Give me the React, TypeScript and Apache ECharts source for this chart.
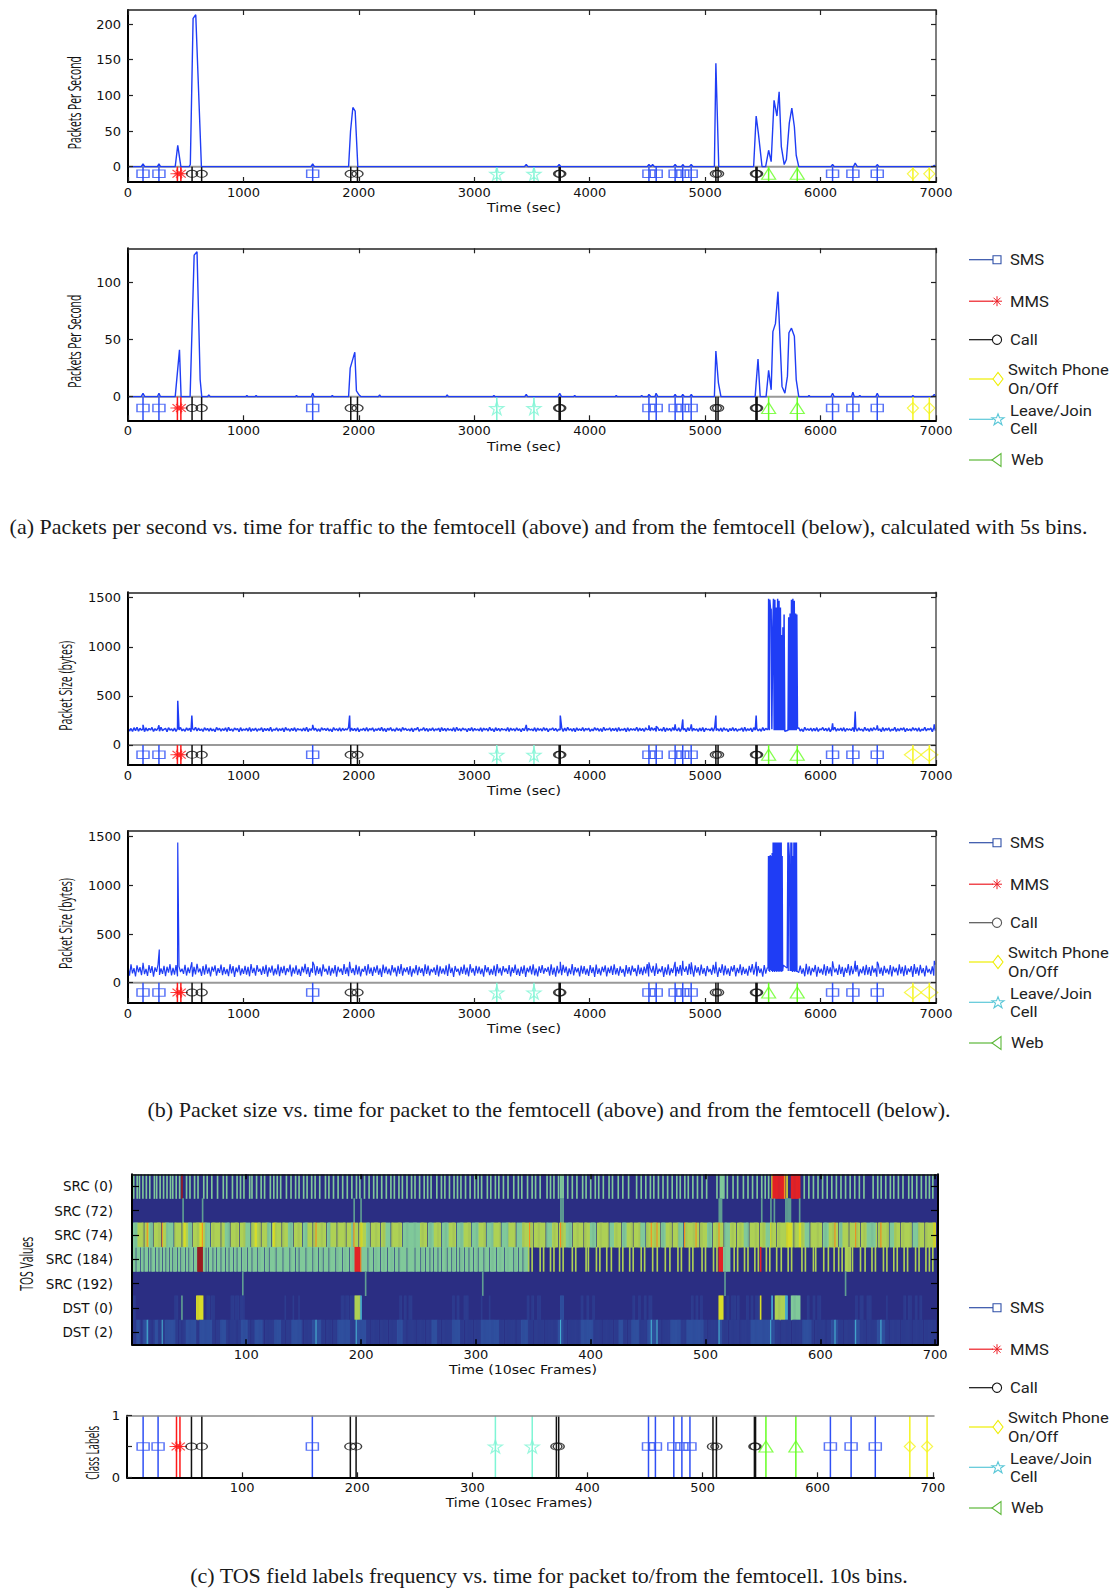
import React, { useEffect, useRef } from "react";
import * as echarts from "echarts";

// ---- event annotations (seconds) ----
const smsTimes = [130, 268, 1600, 4513, 4576, 4740, 4806, 4879, 6104, 6280, 6491];
const mmsTimes = [428, 458];
const callTimes = [555, 638, 1930, 1988, 3735, 3745, 5093, 5112, 5440, 5450];
const switchTimes = [6800, 6942];
const leaveTimes = [3195, 3517];
const webTimes = [5550, 5798];

// ---- event annotations (10 s frames) ----
const smsFrames = [14, 27, 161, 453, 459, 475, 482, 489, 611, 629, 650];
const mmsFrames = [43, 46];
const callFrames = [56, 65, 194, 199, 373, 375, 509, 512, 545, 546];
const switchFrames = [680, 695];
const leaveFrames = [320, 352];
const webFrames = [555, 581];

const secTicks = [0, 1000, 2000, 3000, 4000, 5000, 6000, 7000];
const frameTicks = [100, 200, 300, 400, 500, 600, 700];
const rateTicksTo = [0, 50, 100, 150, 200];
const rateTicksFrom = [0, 50, 100];
const sizeTicks = [0, 500, 1000, 1500];
const classTicks = [0, 0.5, 1];
const classLabels = [0, 1];
const tosLabels = ["SRC (0)", "SRC (72)", "SRC (74)", "SRC (184)", "SRC (192)", "DST (0)", "DST (2)"];

const captionA = "(a) Packets per second vs. time for traffic to the femtocell (above) and from the femtocell (below), calculated with 5s bins.";
const captionB = "(b) Packet size vs. time for packet to the femtocell (above) and from the femtocell (below).";
const captionC = "(c) TOS field labels frequency vs. time for packet to/from the femtocell. 10s bins.";

// ---- packets per second ----
const rateTo = [
  [0, 0], [115, 0], [130, 4], [145, 0], [255, 0], [268, 4], [281, 0], [409, 0], [431, 30], [458, 0], [530, 0], [540, 3], [564, 208], [587, 213], [636, 0],
  [1585, 0], [1600, 4], [1615, 0], [1911, 0], [1928, 50], [1948, 83], [1968, 78], [1991, 0], [3435, 0], [3450, 3], [3465, 0], [3720, 0], [3735, 3], [3750, 0],
  [4498, 0], [4513, 3], [4530, 0], [4545, 3], [4560, 0], [4725, 0], [4740, 3], [4755, 0], [4795, 0], [4806, 3], [4820, 0], [4865, 0], [4879, 3], [4895, 0],
  [5080, 0], [5093, 145], [5118, 0], [5420, 0], [5442, 71], [5461, 47], [5493, 0], [5524, 0], [5550, 23], [5572, 7], [5597, 93], [5622, 71], [5641, 105],
  [5660, 28], [5685, 3], [5704, 10], [5729, 61], [5751, 82], [5773, 56], [5789, 16], [5811, 0],
  [6090, 0], [6104, 3], [6118, 0], [6285, 0], [6300, 5], [6318, 0], [6478, 0], [6491, 3], [6505, 0], [6970, 0], [6985, 2], [7000, 0],
];
const rateFrom = [
  [0, 0], [115, 0], [130, 3], [145, 0], [255, 0], [268, 3], [281, 0], [409, 0], [446, 41], [460, 0], [538, 0], [573, 124], [598, 127], [625, 15], [639, 0],
  [690, 0], [700, 1.5], [712, 0], [1020, 0], [1030, 1], [1040, 0], [1100, 0], [1110, 1], [1120, 0], [1450, 0], [1460, 1], [1470, 0], [1588, 0], [1600, 3], [1612, 0],
  [1760, 0], [1770, 1], [1780, 0], [1911, 0], [1925, 25], [1965, 39], [1979, 5], [1999, 2], [2019, 0], [2170, 0], [2180, 1.5], [2190, 0], [2755, 0], [2765, 1.5], [2775, 0],
  [3160, 0], [3170, 1], [3180, 0], [3438, 0], [3450, 2], [3462, 0], [3725, 0], [3740, 3], [3755, 0], [3860, 0], [3870, 1], [3880, 0], [4220, 0], [4230, 1], [4240, 0],
  [4440, 0], [4450, 1], [4462, 0], [4503, 0], [4513, 2], [4530, 0], [4565, 0], [4575, 3], [4590, 0], [4728, 0], [4740, 2], [4752, 0], [4795, 0], [4806, 2], [4820, 0], [4868, 0], [4880, 2], [4892, 0],
  [5080, 0], [5093, 40], [5115, 12], [5137, 0], [5433, 0], [5458, 33], [5477, 0], [5528, 0], [5550, 23], [5572, 6], [5587, 57], [5609, 64], [5631, 92], [5666, 9], [5691, 3],
  [5713, 18], [5726, 56], [5748, 60], [5773, 53], [5789, 15], [5811, 0], [5890, 0], [5900, 1], [5910, 0], [6090, 0], [6104, 3], [6118, 0], [6268, 0], [6280, 4], [6292, 0],
  [6330, 0], [6340, 1], [6350, 0], [6478, 0], [6491, 3], [6505, 0], [6790, 0], [6800, 1], [6812, 0], [6970, 0], [6985, 2], [7000, 0],
];

// ---- packet size: ripple read every 13 s, plus spikes and the two bursts ----
const sizeToRipple = [
  172, 142, 168, 138, 176, 146, 180, 140, 170, 150, 164, 136, 174, 144, 168, 152, 178, 138, 166, 148, 172, 140, 180, 146, 160,
  170, 136, 176, 150, 164, 142, 172, 138, 168, 154, 178, 144, 162, 140, 174, 148, 170, 136, 166, 152, 180, 142, 172, 146, 164,
  138, 176, 150, 168, 140, 172, 144, 162, 136, 178, 152, 170, 142, 166, 148, 174, 138, 180, 146, 164, 140, 172, 154, 168, 136,
  176, 144, 162, 150, 170, 142, 178, 138, 166, 148, 172, 140, 164, 152, 176, 136, 170, 146, 168, 144, 180, 138, 162, 150, 174,
  142, 166, 148, 172, 136, 178, 152, 164, 140, 170, 146, 176, 138, 168, 154, 162, 142, 172, 144, 180, 136, 166, 150, 174, 148,
  170, 140, 164, 138, 176, 152, 168, 146, 172, 142, 162, 136, 178, 150, 166, 144, 174, 140, 170, 148, 164, 154, 180, 138, 172,
  146, 168, 142, 176, 136, 162, 150, 170, 144, 178, 140, 166, 152, 174, 138, 164, 148, 172, 146, 180, 142, 168, 136, 170, 150,
  176, 144, 162, 140, 174, 148, 166, 138, 178, 152, 170, 146, 164, 142, 172, 136, 168, 154, 180, 140, 162, 150, 176, 144, 170,
  138, 166, 148, 174, 142, 164, 152, 172, 136, 178, 146, 168, 140, 170, 150, 162, 144, 176, 138, 180, 148, 166, 142, 172, 154,
  164, 136, 170, 146, 178, 140, 168, 150, 162, 144, 174, 138, 172, 152, 166, 142, 180, 148, 164, 136, 176, 146, 170, 140, 168,
  154, 162, 144, 178, 138, 172, 150, 166, 142, 174, 148, 164, 136, 170, 146, 180, 140, 168, 152, 162, 144, 176, 138, 172, 150,
  166, 142, 178, 148, 170, 136, 164, 154, 174, 146, 168, 140, 162, 152, 176, 138, 172, 144, 180, 150, 166, 142, 170, 136, 174,
  148, 164, 146, 178, 140, 168, 152, 172, 138, 162, 144, 176, 150, 170, 142, 166, 136, 180, 148, 164, 154, 174, 140, 168, 146,
  172, 138, 178, 144, 162, 150, 170, 136, 176, 142, 166, 152, 164, 148, 180, 140, 172, 146, 168, 138, 174, 154, 162, 144, 178, 150,
  170, 138, 176, 146, 164, 142, 180, 136, 172, 150, 168, 140, 178, 148, 162, 144, 174, 138, 170, 152, 166, 136, 176, 146, 180,
  142, 168, 150, 164, 138, 172, 144, 178, 136, 170, 154, 162, 146, 174, 140, 180, 148, 166, 142, 172, 138, 176, 150, 164, 136,
  168, 146, 178, 144, 170, 140, 162, 152, 174, 138, 180, 142, 166, 148, 172, 136, 176, 150, 168, 144, 164, 140, 178, 146, 170,
  154, 162, 138, 174, 142, 180, 148, 166, 136, 172, 150, 176, 144, 168, 140, 164, 152, 178, 138, 170, 146, 174, 142, 162, 136,
  180, 150, 166, 148, 172, 140, 168, 144, 176, 138, 164, 154, 178, 146, 170, 142, 174, 136, 162, 150, 180, 140, 166, 148, 172,
  144, 176, 138, 168, 152, 164, 146, 178, 136, 170, 142, 174, 150, 162, 140, 180, 148, 166, 138, 172, 144, 176, 154, 168, 146,
  164, 136, 178, 142, 170, 150, 174, 140, 162, 148, 180, 138, 166, 144, 172, 152, 176, 136, 168, 146, 164, 142, 178, 150, 170,
  140, 174, 138, 162, 148, 180, 144, 166, 154, 172, 136, 176, 146, 168, 142, 164, 150, 178, 140, 170, 138, 174, 148, 162, 144, 180,
];
const sizeFromRipple = [
  165, 72, 188, 96, 150, 64, 178, 108, 160, 78, 192, 88, 142, 70, 182, 100, 170, 62, 158, 112, 186, 80, 148, 92, 174,
  68, 164, 104, 190, 76, 152, 84, 180, 66, 168, 110, 144, 90, 184, 74, 156, 98, 176, 62, 162, 86, 194, 106, 146, 70,
  172, 82, 188, 94, 154, 64, 166, 114, 178, 72, 150, 102, 186, 78, 160, 88, 142, 68, 190, 96, 170, 60, 156, 108, 182,
  76, 148, 92, 174, 84, 164, 66, 192, 100, 152, 72, 180, 112, 144, 80, 168, 90, 184, 62, 158, 104, 176, 74, 146, 86,
  190, 68, 162, 98, 172, 78, 150, 110, 186, 64, 154, 94, 178, 82, 142, 70, 166, 106, 194, 88, 160, 60, 148, 102, 182,
  76, 170, 92, 156, 66, 188, 114, 144, 84, 174, 72, 152, 96, 180, 62, 164, 108, 146, 80, 192, 90, 158, 68, 176, 100,
  150, 78, 184, 86, 168, 64, 142, 112, 172, 74, 190, 94, 154, 70, 162, 104, 178, 82, 148, 60, 186, 98, 166, 88, 144,
  76, 180, 106, 156, 66, 174, 92, 192, 72, 152, 110, 160, 84, 170, 62, 146, 96, 182, 78, 164, 102, 150, 68, 188, 90,
  176, 74, 142, 108, 158, 80, 184, 64, 168, 94, 148, 86, 178, 70, 194, 100, 154, 60, 172, 112, 144, 76, 162, 92, 186,
  82, 156, 66, 190, 104, 150, 72, 174, 96, 166, 88, 146, 62, 180, 108, 160, 78, 142, 84, 176, 68, 192, 98, 152, 74,
  170, 110, 148, 90, 182, 64, 158, 102, 186, 80, 144, 70, 164, 94, 178, 60, 154, 106, 172, 86, 190, 76, 146, 66, 168,
  100, 180, 92, 150, 112, 162, 72, 188, 82, 156, 62, 174, 96, 142, 78, 184, 104, 166, 68, 148, 88, 192, 74, 160, 108,
  152, 64, 176, 94, 170, 84, 144, 70, 182, 100, 158, 60, 186, 90, 146, 76, 164, 110, 178, 66, 154, 98, 172, 80, 190,
  86, 150, 72, 168, 102, 142, 62, 180, 94, 160, 74, 176, 112, 148, 68, 184, 88, 156, 78, 166, 96, 192, 64, 152, 104, 174,
  70, 186, 90, 144, 108, 170, 60, 158, 84, 190, 76, 148, 100, 176, 66, 162, 94, 182, 72, 154, 112, 168, 80, 194, 88,
  146, 62, 178, 104, 160, 74, 186, 92, 150, 68, 172, 110, 142, 82, 184, 96, 164, 60, 156, 102, 190, 76, 176, 86, 148,
  70, 168, 114, 180, 64, 152, 98, 188, 78, 162, 90, 144, 72, 174, 106, 192, 84, 158, 66, 170, 100, 146, 62, 182, 94,
  154, 80, 186, 108, 164, 68, 178, 88, 150, 74, 190, 96, 142, 60, 172, 112, 160, 82, 184, 70, 156, 104, 176, 92, 148,
  66, 194, 86, 168, 76, 152, 110, 182, 62, 162, 98, 144, 84, 188, 72, 170, 94, 158, 68, 178, 106, 146, 80, 186, 90,
  164, 60, 154, 102, 192, 74, 172, 88, 150, 112, 180, 66, 142, 96, 168, 78, 184, 84, 160, 70, 176, 104, 148, 62, 190,
  92, 156, 72, 174, 100, 144, 86, 182, 64, 166, 108, 152, 76, 188, 94, 162, 68, 178, 82, 146, 110, 170, 60, 192, 90,
  158, 74, 184, 98, 150, 66, 176, 104, 142, 88, 168, 72, 186, 112, 160, 80, 148, 62, 180, 96, 172, 84, 154, 70, 190, 106,
];
const sizeToSpikes = [
  [130, 205], [268, 200], [431, 450], [553, 300], [1600, 205], [1920, 300], [3450, 205], [3745, 300], [4513, 200], [4576, 190], [4740, 210], [4806, 260],
  [4880, 210], [5093, 300], [5442, 300], [6104, 220], [6300, 340], [6491, 200], [6985, 210],
];
const sizeFromSpikes = [
  [130, 205], [271, 340], [431, 1440], [553, 210], [1600, 215], [1920, 215], [3745, 215], [4513, 210], [4576, 200], [4740, 215], [4806, 225],
  [4880, 210], [5093, 215], [5442, 215], [6104, 220], [6300, 225], [6491, 215], [6985, 225],
];
const sizeToBurst = [
  [5546, 170], [5550, 1490], [5556, 150], [5560, 1480], [5566, 1390], [5572, 1380], [5578, 160], [5586, 1200], [5592, 1490], [5598, 150], [5604, 1480], [5610, 150],
  [5616, 1400], [5622, 150], [5628, 1490], [5634, 150], [5640, 1470], [5646, 150], [5652, 1400], [5658, 150], [5664, 1120], [5668, 150], [5674, 1200], [5680, 150], [5684, 1330], [5690, 140],
  [5718, 150], [5724, 1300], [5730, 150], [5736, 1340], [5742, 150], [5748, 1480], [5754, 150], [5760, 1490], [5766, 150], [5772, 1470], [5778, 150], [5784, 1340], [5790, 150], [5794, 1330], [5800, 170],
];
const sizeFromBurst = [
  [5544, 150], [5548, 1300], [5552, 120], [5556, 1300], [5560, 110], [5564, 1310], [5568, 130], [5572, 1300], [5576, 120], [5580, 1330], [5584, 110], [5588, 1440], [5592, 120], [5596, 1440], [5600, 110],
  [5604, 1440], [5608, 120], [5612, 1440], [5616, 110], [5620, 1440], [5624, 120], [5628, 1440], [5632, 110], [5636, 1440], [5640, 120], [5644, 1440], [5648, 110], [5652, 1440], [5656, 120], [5660, 1440], [5664, 110],
  [5668, 1300], [5672, 120], [5678, 180], [5710, 150], [5716, 1440], [5720, 120], [5724, 1440], [5730, 1300], [5736, 120], [5742, 1440], [5746, 120], [5752, 1440], [5756, 110], [5760, 1300], [5764, 120],
  [5768, 1440], [5772, 110], [5776, 1440], [5780, 120], [5784, 1440], [5788, 110], [5792, 1440], [5796, 120],
];

// ---- TOS heat map: columns are frames, levels index the colour ramp ----
const src0Stripes = [2, 5, 7, 10, 13, 16, 20, 22, 25, 28, 31, 34, 36, 39, 42, 48, 51, 55, 58, 63, 66, 70, 75, 80, 83, 88, 92, 95, 98, 103, 105, 109, 113, 116, 121, 124, 127, 130, 135, 139, 143, 146, 150, 153, 157, 160, 164, 169, 172, 176, 180, 184, 188, 192, 196, 199, 203, 207, 211, 214, 218, 222, 226, 229, 233, 236, 240, 244, 247, 251, 255, 258, 261, 266, 270, 273, 277, 281, 284, 287, 291, 295, 299, 302, 305, 310, 313, 317, 320, 324, 328, 333, 337, 340, 345, 349, 352, 356, 362, 365, 368, 372, 374, 375, 376, 380, 384, 388, 393, 396, 400, 404, 407, 411, 416, 419, 424, 428, 433, 440, 444, 448, 452, 455, 459, 463, 467, 471, 475, 478, 482, 485, 489, 493, 497, 501, 510, 513, 514, 515, 516, 519, 524, 528, 533, 537, 541, 545, 549, 552, 555, 586, 590, 594, 598, 602, 606, 610, 614, 618, 622, 626, 630, 634, 638, 646, 650, 653, 657, 661, 664, 668, 672, 677, 680, 684, 688, 692, 695, 698];
const src0Accents = [[44, 44, 10], [558, 558, 7], [559, 568, 9], [569, 569, 8], [571, 571, 7], [575, 582, 9]];
const src72Lines = [[45, 45, 4], [62, 62, 4], [194, 194, 4], [200, 200, 4], [374, 376, 4], [512, 514, 4], [549, 549, 4], [557, 557, 4], [560, 560, 4], [570, 574, 4], [582, 582, 4]];
const src74Mint = [[1, 5, 5], [16, 18, 5], [31, 36, 5], [50, 52, 5], [65, 68, 5], [82, 85, 5], [100, 103, 5], [119, 121, 5], [137, 140, 5], [150, 153, 5], [171, 173, 5], [192, 193, 5], [205, 207, 5], [222, 225, 5], [237, 251, 5], [259, 263, 5], [271, 276, 5], [284, 289, 5], [297, 302, 5], [310, 315, 5], [323, 328, 5], [336, 340, 5], [362, 366, 5], [379, 383, 5], [400, 404, 5], [417, 420, 5], [428, 431, 5], [444, 447, 5], [462, 465, 5], [477, 480, 5], [502, 505, 5], [517, 521, 5], [534, 537, 5], [553, 556, 5], [587, 590, 5], [603, 607, 5], [617, 619, 5], [641, 648, 5], [661, 664, 5], [681, 685, 5]];
const src74Gaps = [11, 19, 26, 37, 44, 53, 61, 69, 78, 86, 94, 104, 113, 122, 131, 141, 149, 158, 170, 179, 187, 198, 208, 217, 226, 236, 258, 270, 283, 296, 309, 322, 335, 350, 361, 372, 384, 394, 405, 416, 427, 437, 448, 461, 471, 481, 495, 506, 516, 527, 538, 547, 562, 577, 591, 602, 616, 625, 635, 650, 660, 670, 680, 691];
const src74Accents = [[46, 47, 7], [60, 61, 7], [108, 109, 7], [124, 125, 7], [200, 201, 7], [557, 557, 7], [571, 575, 7], [582, 583, 7], [699, 700, 7], [14, 14, 8], [27, 27, 8], [62, 62, 8], [161, 161, 8], [194, 194, 8], [347, 347, 8], [374, 374, 8], [453, 453, 8], [458, 458, 8], [482, 482, 8], [492, 492, 8], [512, 512, 8], [613, 613, 8], [631, 631, 8], [653, 653, 8]];
const src184Gaps = [4, 8, 11, 15, 17, 21, 24, 27, 30, 33, 36, 40, 43, 47, 50, 54, 65, 67, 71, 74, 78, 82, 85, 89, 92, 96, 101, 105, 110, 116, 120, 126, 132, 138, 143, 146, 152, 158, 163, 167, 172, 178, 184, 190, 206, 211, 217, 223, 229, 233, 240, 247, 252, 256, 260, 263, 267, 270, 275, 279, 283, 286, 290, 294, 298, 302, 307, 312, 318, 325, 333, 337, 341];
const src184Stripes = [346, 349, 356, 359, 365, 368, 373, 376, 384, 387, 396, 398, 405, 408, 414, 418, 425, 428, 434, 437, 444, 447, 454, 458, 465, 469, 476, 479, 486, 489, 497, 500, 507, 510, 518, 525, 528, 534, 537, 543, 546, 553, 556, 562, 566, 572, 575, 584, 587, 594, 596, 603, 607, 612, 616, 619, 628, 635, 639, 645, 648, 655, 658, 664, 667, 673, 676, 683, 686, 692, 695, 698];
const src184Accents = [[516, 521, 5], [622, 626, 6], [58, 62, 10], [195, 199, 9], [200, 200, 8], [512, 515, 9], [548, 548, 9]];
const src192Lines = [[97, 97, 4], [204, 204, 4], [306, 306, 4], [517, 517, 4], [622, 622, 4]];
const dst0Faint = [[2, 3, 1], [38, 40, 1], [66, 68, 1], [70, 72, 1], [87, 89, 1], [91, 93, 1], [95, 98, 1], [134, 134, 1], [141, 141, 1], [146, 146, 1], [183, 185, 1], [187, 189, 1], [191, 194, 1], [234, 235, 1], [238, 239, 1], [242, 244, 1], [280, 281, 1], [284, 285, 1], [290, 293, 1], [305, 305, 1], [312, 312, 1], [345, 346, 1], [349, 350, 1], [354, 356, 1], [374, 376, 2], [392, 393, 1], [397, 398, 1], [402, 403, 1], [437, 438, 1], [442, 443, 1], [447, 448, 1], [451, 453, 1], [488, 489, 1], [492, 493, 1], [496, 497, 1], [519, 520, 1], [523, 526, 1], [528, 529, 1], [536, 537, 1], [540, 541, 1], [544, 546, 1], [589, 590, 1], [594, 595, 1], [598, 600, 1], [631, 632, 1], [635, 637, 1], [641, 644, 1], [658, 658, 1], [673, 674, 1], [677, 679, 1], [683, 684, 1], [687, 688, 1]];
const dst0Accents = [[44, 44, 4], [57, 62, 7], [195, 199, 6], [200, 200, 3], [512, 515, 7], [548, 548, 7], [558, 558, 3], [561, 569, 6], [570, 571, 3], [575, 582, 5]];
const dst2Bright = [[5, 7, 2], [11, 15, 2], [21, 23, 2], [30, 38, 2], [48, 56, 2], [60, 70, 2], [78, 82, 2], [96, 101, 2], [108, 114, 2], [125, 130, 2], [140, 148, 2], [158, 165, 2], [180, 190, 2], [196, 204, 2], [232, 236, 2], [262, 266, 2], [280, 286, 2], [305, 320, 2], [340, 345, 2], [372, 376, 2], [392, 402, 2], [425, 428, 2], [436, 442, 2], [450, 458, 2], [470, 478, 2], [484, 498, 2], [512, 514, 2], [540, 560, 2], [585, 592, 2], [610, 615, 2], [630, 634, 2], [650, 656, 2]];
const dst2Gaps = [9, 18, 26, 41, 44, 58, 73, 85, 92, 104, 116, 134, 150, 169, 175, 208, 216, 224, 240, 248, 256, 270, 290, 298, 325, 335, 350, 360, 380, 410, 420, 432, 462, 502, 520, 530, 565, 575, 595, 605, 620, 640, 660, 670, 680, 690];
const dst2Cyan = [14, 27, 161, 196, 374, 453, 458, 512, 557, 613, 631, 653];

const tosRamp = ["#2b2e83", "#2d3c8f", "#2f4f9e", "#46aed0", "#5f9e92", "#80c99a", "#aed155", "#d8dc28", "#f5901e", "#e32226", "#9c1c20"];

const frameCount = 702;
const blue = "#1f3df5";
const tickFont = "DejaVu Sans";
const labelFont = "Open Sans";
const legendFont = "Roboto";
const starPath = "path://M50 0L61 35L98 35L68 57L79 91L50 70L21 91L32 57L2 35L39 35Z";
const asteriskPath = "path://M50 0V100M0 50H100M15 15L85 85M85 15L15 85";
const ellipsePath = "path://M0 50A50 50 0 1 1 100 50A50 50 0 1 1 0 50Z";

function buildHeatCells() {
  const rows = tosLabels.map(() => new Array(frameCount).fill(0));
  const runs = (r: number, list: number[][]) => list.forEach(([a, b, l]) => { for (let f = a; f <= b; f++) rows[r][f - 1] = l; });
  const marks = (r: number, list: number[], l: number) => list.forEach((f) => { rows[r][f - 1] = l; });
  marks(0, src0Stripes, 5); runs(0, src0Accents);
  runs(1, src72Lines);
  runs(2, [[1, 700, 6]]); runs(2, src74Mint); marks(2, src74Gaps, 0); runs(2, src74Accents);
  runs(3, [[1, 345, 5]]); marks(3, src184Gaps, 0); marks(3, src184Stripes, 6); runs(3, src184Accents);
  runs(4, src192Lines);
  runs(5, dst0Faint); runs(5, dst0Accents);
  runs(6, [[1, 700, 1]]); runs(6, dst2Bright); marks(6, dst2Gaps, 0); marks(6, dst2Cyan, 3);
  const cells: number[][] = [];
  rows.forEach((row, r) => row.forEach((l, f) => { if (l > 0) cells.push([f, r, l]); }));
  return cells;
}

function sizeSeries(ripple: number[], spikes: number[][], burst: number[][]) {
  const pts: number[][] = [];
  ripple.forEach((v, i) => { const t = i * 13; if (t <= 7000 && (t < 5540 || t > 5805)) pts.push([t, v]); });
  return pts.concat(spikes, burst).sort((a, b) => a[0] - b[0]);
}

function textW(text: string, font: string) {
  const c = document.createElement("canvas").getContext("2d")!;
  c.font = font;
  return c.measureText(text).width;
}

function fitted(text: string, font: string, cx: number, cy: number, length: number, vertical: boolean, fill = "#111") {
  return {
    type: "text", x: cx, y: cy, rotation: vertical ? Math.PI / 2 : 0, scaleX: length / textW(text, font), silent: true,
    style: { text, font, fill, textAlign: "center", textVerticalAlign: "middle" },
  };
}

function plain(text: string, x: number, y: number) {
  return { type: "text", x, y, scaleX: 1.07, silent: true, style: { text, font: `15.5px "${legendFont}"`, fill: "#222", textAlign: "left", textVerticalAlign: "middle" } };
}

function legendGroup(dy0: number, callColor: string) {
  const dy = dy0 - 1;
  const seg = (y: number, color: string) => ({ type: "line", silent: true, shape: { x1: 969, y1: y + dy, x2: 993, y2: y + dy }, style: { stroke: color, lineWidth: 1.2 } });
  const st = (color: string) => ({ stroke: color, fill: "none", lineWidth: 1.1 });
  const starPts = [[0, -5.5], [1.5, -1.5], [6, -1.5], [2.5, 1], [4, 5.5], [0, 2.7], [-4, 5.5], [-2.5, 1], [-6, -1.5], [-1.5, -1.5]];
  const sy = 260.7, my = 302.2, cy = 340.7, wy = 380, ly = 420.3, ey = 461;
  const am = "#ed1c24";
  return [
    seg(sy, "#3050a8"),
    { type: "rect", silent: true, shape: { x: 993, y: sy + dy - 4, width: 8, height: 8 }, style: st("#3050a8") },
    plain("SMS", 1010, sy + dy),
    seg(my, am),
    ...[[-5, 0, 5, 0], [0, -5, 0, 5], [-3.5, -3.5, 3.5, 3.5], [-3.5, 3.5, 3.5, -3.5]].map((p) => ({ type: "line", silent: true, shape: { x1: 997 + p[0], y1: my + dy + p[1], x2: 997 + p[2], y2: my + dy + p[3] }, style: { stroke: am, lineWidth: 1 } })),
    plain("MMS", 1010, my + dy),
    seg(cy, callColor),
    { type: "circle", silent: true, shape: { cx: 997, cy: cy + dy, r: 4.6 }, style: st(callColor) },
    plain("Call", 1010, cy + dy),
    seg(wy, "#eeee00"),
    { type: "polygon", silent: true, shape: { points: [[993, wy + dy], [998, wy + dy - 6.5], [1003, wy + dy], [998, wy + dy + 6.5]] }, style: st("#eeee00") },
    plain("Switch Phone", 1008, 370.7 + dy),
    plain("On/Off", 1008, 389.3 + dy),
    seg(ly, "#5cc8d8"),
    { type: "polygon", silent: true, shape: { points: starPts.map((p) => [998 + p[0], ly + dy + p[1]]) }, style: st("#5cc8d8") },
    plain("Leave/Join", 1010, 411.3 + dy),
    plain("Cell", 1010, 430 + dy),
    seg(ey, "#5cb838"),
    { type: "polygon", silent: true, shape: { points: [[992, ey + dy], [1001, ey + dy - 6.5], [1001, ey + dy + 6.5]] }, style: st("#5cb838") },
    plain("Web", 1011, ey + dy),
  ];
}

export default function App() {
  const ref = useRef<HTMLDivElement>(null);
  useEffect(() => {
    document.body.style.margin = "0";
    const chart = echarts.init(ref.current!, undefined, { renderer: "svg" });

    const grids: any[] = [], xAxes: any[] = [], yAxes: any[] = [], series: any[] = [];
    const line = (color: string, width: number) => ({ show: true, onZero: false, lineStyle: { color, width } });
    const lbl = (margin: number, extra: any = {}) => ({ fontFamily: tickFont, fontSize: 13, color: "#111", margin, hideOverlap: false, ...extra });
    const tick = (extra: any = {}) => ({ show: true, inside: true, length: 5, lineStyle: { color: "#222", width: 1.2 }, ...extra });
    const plainNum = (v: number) => String(v);

    function addValuePanel(top: number, bottom: number, left: number, right: number, xMax: number, xTicks: number[], yMin: number, yMax: number, yTicks: number[], yLabels: number[], opts: any = {}) {
      const g = grids.length;
      grids.push({ left, top, width: right - left, height: bottom - top, containLabel: false });
      const xBase = { type: "value", gridIndex: g, min: 0, max: xMax, splitLine: { show: false } };
      const yBase = { type: "value", gridIndex: g, min: yMin, max: yMax, splitLine: { show: false } };
      xAxes.push({ ...xBase, position: "bottom", z: 8, axisLine: line("#000", 2), axisTick: tick({ customValues: xTicks }), axisLabel: lbl(4, { customValues: xTicks, formatter: plainNum }) });
      xAxes.push({ ...xBase, position: "top", z: 8, axisLine: line(opts.topColor || "#222", 1.5), axisTick: tick({ show: !opts.noTop, customValues: xTicks }), axisLabel: { show: false } });
      yAxes.push({ ...yBase, position: "left", z: 8, axisLine: line("#000", 2), axisTick: tick({ customValues: yTicks }), axisLabel: lbl(7, { customValues: yLabels, formatter: plainNum }) });
      yAxes.push({ ...yBase, position: "right", z: 8, axisLine: line(opts.noRight ? "transparent" : "#555", 1.5), axisTick: tick({ show: !opts.noRight, customValues: yTicks }), axisLabel: { show: false } });
      return { x: g * 2, y: g * 2 };
    }

    function addEvents(ax: any, groups: any[], yTop: number, yBot: number, yMark: number) {
      groups.forEach((e) => {
        const stems: any[] = [];
        e.at.forEach((t: number) => { stems.push([t, yTop], [t, yBot], [t, "-"]); });
        series.push({ type: "line", name: e.name, xAxisIndex: ax.x, yAxisIndex: ax.y, data: stems, showSymbol: false, symbol: "none", connectNulls: false, lineStyle: { color: e.color, width: 1.5 }, silent: true, z: 3 });
        series.push({ type: "scatter", name: e.name, xAxisIndex: ax.x, yAxisIndex: ax.y, data: e.at.map((t: number) => [t, yMark]), symbol: e.symbol, symbolSize: e.size, itemStyle: { color: "transparent", borderColor: e.color, borderWidth: 1.2 }, silent: true, z: 4 });
      });
    }

    const eventGroups = (sms: number[], mms: number[], call: number[], sw: number[], leave: number[], web: number[], swSize: number[]) => [
      { name: "SMS", at: sms, color: "#2f50f5", symbol: "rect", size: [12, 7.5] },
      { name: "MMS", at: mms, color: "#ff1a1a", symbol: asteriskPath, size: [14, 11] },
      { name: "Call", at: call, color: "#111", symbol: ellipsePath, size: [11, 7] },
      { name: "Switch Phone On/Off", at: sw, color: "#f5f520", symbol: "diamond", size: swSize },
      { name: "Leave/Join Cell", at: leave, color: "#7ff5d5", symbol: starPath, size: [14, 13] },
      { name: "Web", at: web, color: "#66ff22", symbol: "triangle", size: [14, 11] },
    ];

    const timed = [
      { top: 10, bottom: 182, yMin: -21.5, yMax: 219.7, ticks: rateTicksTo, mark: -10, data: rateTo, sw: [11, 11], w: 1.4 },
      { top: 248.3, bottom: 420.3, yMin: -20.7, yMax: 130, ticks: rateTicksFrom, mark: -10, data: rateFrom, sw: [11, 11], w: 1.4 },
      { top: 592.3, bottom: 765, yMin: -204, yMax: 1555, ticks: sizeTicks, mark: -100, data: sizeSeries(sizeToRipple, sizeToSpikes, sizeToBurst), sw: [17, 13], w: 1.5 },
      { top: 831, bottom: 1003, yMin: -208, yMax: 1557, ticks: sizeTicks, mark: -100, data: sizeSeries(sizeFromRipple, sizeFromSpikes, sizeFromBurst), sw: [17, 13], w: 1.2 },
    ];
    timed.forEach((p) => {
      const ax = addValuePanel(p.top, p.bottom, 128, 936, 7000, secTicks, p.yMin, p.yMax, p.ticks, p.ticks);
      series.push({ type: "line", name: "zero", xAxisIndex: ax.x, yAxisIndex: ax.y, data: [[0, 0], [7000, 0]], showSymbol: false, symbol: "none", lineStyle: { color: "#999", width: 2 }, silent: true, z: 2 });
      series.push({ type: "line", name: "traffic", xAxisIndex: ax.x, yAxisIndex: ax.y, data: p.data, showSymbol: false, symbol: "none", lineStyle: { color: blue, width: p.w }, silent: true, z: 5 });
      addEvents(ax, eventGroups(smsTimes, mmsTimes, callTimes, switchTimes, leaveTimes, webTimes, p.sw), 0, p.yMin, p.mark);
    });

    // heat map panel
    const hg = grids.length;
    grids.push({ left: 132, top: 1174.3, width: 806, height: 170, show: true, backgroundColor: tosRamp[0], borderWidth: 0 });
    const frameNames = Array.from({ length: frameCount }, (_, i) => String(i + 1));
    const onHundred = (_: number, v: string) => Number(v) % 100 === 0;
    const cx = { type: "category", gridIndex: hg, data: frameNames, splitLine: { show: false } };
    const cy = { type: "category", gridIndex: hg, data: tosLabels, inverse: true, splitLine: { show: false } };
    xAxes.push({ ...cx, position: "bottom", z: 10, axisLine: line("#000", 2), axisTick: tick({ alignWithLabel: true, interval: onHundred, lineStyle: { color: "#000", width: 1.5 } }), axisLabel: lbl(4, { interval: onHundred }) });
    xAxes.push({ ...cx, position: "top", z: 10, axisLine: line("#111", 1.5), axisTick: tick({ alignWithLabel: true, interval: onHundred, lineStyle: { color: "#000", width: 1.5 } }), axisLabel: { show: false } });
    yAxes.push({ ...cy, position: "left", z: 10, axisLine: line("#000", 2), axisTick: tick({ length: 7, alignWithLabel: true, lineStyle: { color: "#000", width: 1.2 } }), axisLabel: lbl(19, { fontSize: 13.5 }) });
    yAxes.push({ ...cy, position: "right", z: 10, axisLine: line("#000", 2), axisTick: tick({ length: 7, alignWithLabel: true, lineStyle: { color: "#000", width: 1.2 } }), axisLabel: { show: false } });
    const heatIndex = series.length;
    series.push({ type: "heatmap", name: "TOS", xAxisIndex: hg * 2, yAxisIndex: hg * 2, data: buildHeatCells(), progressive: 0, silent: true, itemStyle: { borderWidth: 0 }, emphasis: { disabled: true } });

    // class label panel
    const ax6 = addValuePanel(1415.7, 1477.3, 127, 934, 701, frameTicks, 0, 1, classTicks, classLabels, { noRight: true, noTop: true, topColor: "#888" });
    addEvents(ax6, eventGroups(smsFrames, mmsFrames, callFrames, switchFrames, leaveFrames, webFrames, [11, 11]), 1, 0, 0.5);

    const serif = '20px "Liberation Serif"';
    const tickTitleFont = `13px "${tickFont}"`;
    const yFont = `18px "${labelFont}"`;
    const graphic = [
      fitted("Packets Per Second", yFont, 74, 102.7, 93, true),
      fitted("Packets Per Second", yFont, 74, 341.3, 93, true),
      fitted("Packet Size (bytes)", yFont, 64.5, 685.8, 90, true),
      fitted("Packet Size (bytes)", yFont, 64.5, 923.6, 91, true),
      fitted("TOS Values", yFont, 25.5, 1263.8, 54, true),
      fitted("Class Labels", yFont, 92, 1452.8, 54, true),
      fitted("Time (sec)", tickTitleFont, 524, 207.3, 74, false),
      fitted("Time (sec)", tickTitleFont, 524, 446, 74, false),
      fitted("Time (sec)", tickTitleFont, 524, 790, 74, false),
      fitted("Time (sec)", tickTitleFont, 524, 1028.3, 74, false),
      fitted("Time (10sec Frames)", tickTitleFont, 523, 1369, 148, false),
      fitted("Time (10sec Frames)", tickTitleFont, 519, 1502, 147, false),
      fitted(captionA, serif, 548.5, 527.7, 1079, false, "#1a1a1a"),
      fitted(captionB, serif, 549, 1110, 804, false, "#1a1a1a"),
      fitted(captionC, serif, 549, 1576, 719, false, "#1a1a1a"),
      ...legendGroup(0, "#111"),
      ...legendGroup(583, "#555"),
      ...legendGroup(1048, "#111"),
    ];

    chart.setOption({
      animation: false,
      backgroundColor: "#fff",
      grid: grids,
      xAxis: xAxes,
      yAxis: yAxes,
      visualMap: { show: false, type: "continuous", min: 0, max: 10, seriesIndex: heatIndex, dimension: 2, inRange: { color: tosRamp } },
      series,
      graphic,
    });
    return () => chart.dispose();
  }, []);
  return <div ref={ref} style={{ position: "absolute", left: 0, top: 0, width: 1109, height: 1588 }} />;
}
